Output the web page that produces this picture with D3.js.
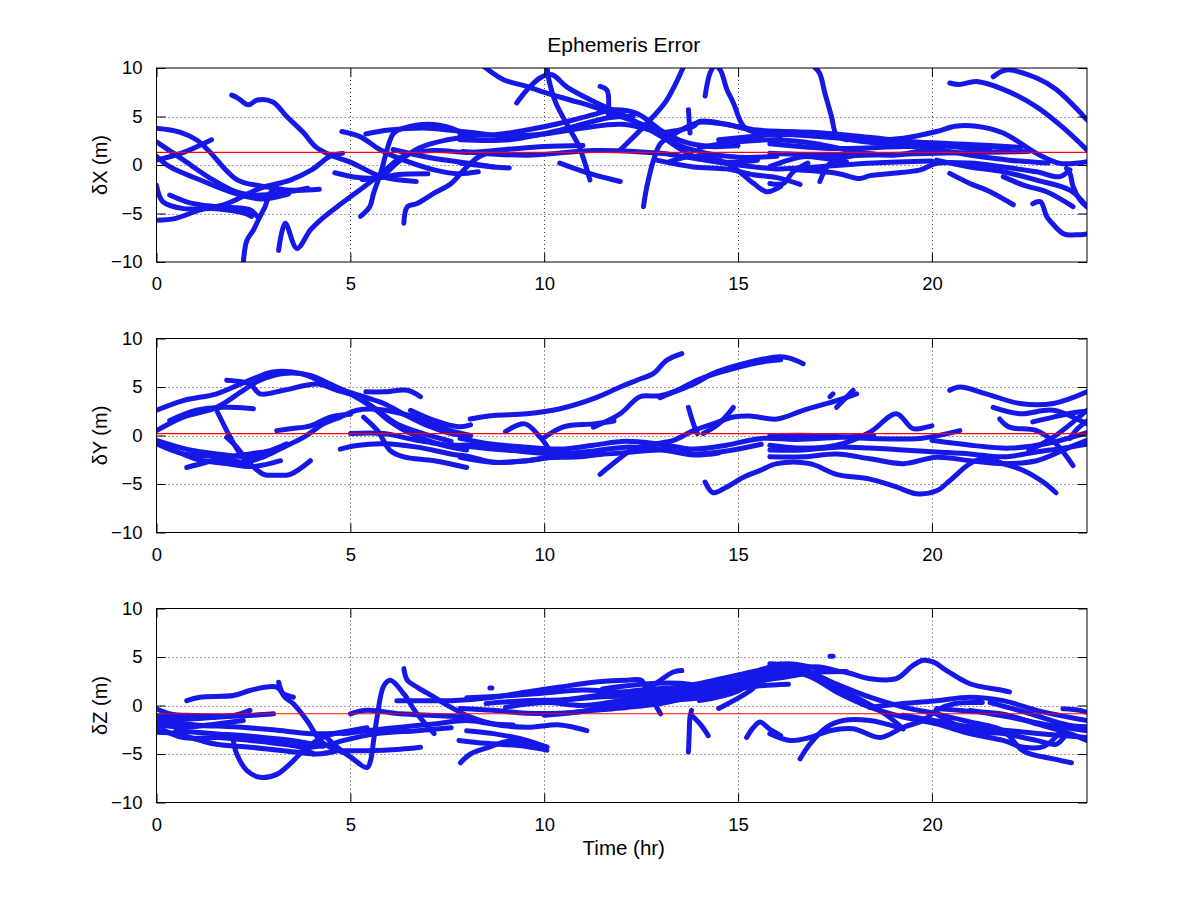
<!DOCTYPE html>
<html><head><meta charset="utf-8">
<script src="https://cdn.jsdelivr.net/npm/d3@7"></script>
<style>body{margin:0;background:#fff}svg{display:block}text{font-family:"Liberation Sans",Arial,sans-serif;fill:#000}</style>
</head><body><svg id="c" width="1201" height="901"></svg>
<script>
const titleText = "Ephemeris Error";
const xLabel = "Time (hr)";
const yLabels = ["\u03b4X (m)", "\u03b4Y (m)", "\u03b4Z (m)"];
const xTicks = [0, 5, 10, 15, 20];
const yTicks = [-10, -5, 0, 5, 10];
const xDomain = [0, 24];
const yDomain = [-10, 10];
const meanBias = [1.3, 0.2, -0.85];

const dXTracks = [
 [[1.94,7.2],[2.1,6.9],[2.37,6.2],[2.6,6.7],[3.0,6.5],[3.36,5.0],[3.8,3.3],[4.1,1.9],[4.5,1.0],[5.0,0.3],[5.8,-1.2],[6.7,-1.7]],
 [[0,3.8],[0.6,3.4],[1.03,2.6],[1.34,1.5],[2.07,-1.5],[2.76,-2.2],[3.5,-2.6],[4.2,-2.5]],
 [[0,2.4],[0.7,0.5],[1.4,-1.4],[2.07,-2.8],[2.5,-3.1],[3.2,-2.9],[3.9,-2.4]],
 [[0,0.5],[0.7,1.3],[1.42,2.6]],
 [[0,0.9],[0.35,-0.2],[1.1,-1.5],[2.0,-2.9],[2.7,-3.5],[3.4,-3.0]],
 [[0,-2.1],[0.17,-3.8],[0.7,-4.5],[1.55,-4.5],[2.3,-5.0],[2.45,-5.3]],
 [[0,-5.7],[0.5,-5.5],[1.1,-4.65],[1.8,-4.0],[2.67,-2.4],[3.45,-1.55],[4.0,-0.5],[4.48,0.9],[4.8,1.2]],
 [[0.34,-3.1],[0.86,-3.9],[1.55,-4.3],[2.4,-4.6],[2.6,-5.3]],
 [[2.24,-10],[2.33,-7.8],[2.5,-6.7],[2.67,-5.3],[2.8,-4.3],[2.93,-2.9],[3.1,-2.3]],
 [[3.15,-8.8],[3.32,-6.0],[3.62,-8.6],[3.97,-6.7],[4.22,-5.7],[4.66,-4.3],[5.1,-3.0],[5.7,-1.2],[6.0,-0.2]],
 [[5.26,-5.3],[5.5,-4.3],[5.6,-2.9],[5.78,-0.86],[6.12,3.3],[6.38,3.8],[7.0,4.2],[7.6,3.8],[8.1,2.8]],
 [[6.38,-6.0],[6.47,-4.3],[6.72,-3.97],[7.16,-2.9],[7.6,-1.9],[7.93,-0.5],[8.3,0.8],[8.8,1.5]],
 [[4.78,3.45],[5.26,2.9],[5.78,1.55],[6.38,0.5],[7.16,-0.5],[7.76,-0.9],[8.3,-0.7]],
 [[4.6,-0.8],[5.2,-1.3],[5.8,-1.3],[6.2,-1.0],[7.0,-0.9]],
 [[5.3,-1.5],[5.8,-1.2],[6.2,0.2],[6.8,1.8],[7.5,2.6],[8.2,3.0]],
 [[5.4,3.2],[6.0,3.6],[7.0,3.8],[8.0,3.4],[9.0,3.0],[10.0,3.2],[11.0,3.8],[12.0,4.2],[13.0,3.3]],
 [[5.8,-1.0],[6.4,1.0],[7.2,1.5],[8.0,1.3],[9.0,1.6],[10.0,1.9],[11.0,2.0]],
 [[6.1,1.6],[7.0,0.8],[8.0,0.2],[8.7,-0.2]],
 [[8.43,10.2],[8.95,8.8],[9.55,8.1],[10.07,7.4],[10.67,6.7],[11.27,6.0],[11.96,5.0],[12.65,4.0],[13.0,3.3],[13.5,2.0],[14.2,1.2],[15.0,0.8],[16.0,0.9]],
 [[9.29,6.4],[9.55,7.7],[9.9,9.0],[10.2,9.3],[10.6,8.0],[11.3,6.5],[11.96,5.3],[12.99,3.0],[13.85,0.9],[14.6,0.3],[15.5,0.5]],
 [[10.07,10.2],[10.12,8.8],[10.3,6.4],[10.67,3.6],[10.9,1.9],[11.18,-1.55]],
 [[11.96,1.55],[12.65,4.3],[13.16,6.7],[13.6,10.2]],
 [[14.15,7.1],[14.28,9.5],[14.4,10.2],[14.54,9.8],[14.71,7.8],[14.88,6.4],[15.14,4.0],[15.5,3.3],[16.5,3.1],[17.5,2.8],[18.5,2.3],[19.5,2.2],[20.5,1.9],[21.5,1.5]],
 [[12.56,-4.3],[12.65,-2.2],[12.82,0.5],[13.0,2.2],[13.4,3.3],[14.0,4.4],[14.5,4.3],[15.5,3.6],[16.5,3.4],[17.54,2.9],[18.4,2.6],[19.26,2.76],[20.12,3.45],[20.6,4.0],[21.15,4.0],[21.84,3.3],[22.7,1.2],[23.3,0.17],[24.0,0.34]],
 [[11.44,8.1],[11.62,7.7],[11.65,5.3]],
 [[7.83,3.1],[8.69,3.1],[9.55,3.6],[10.41,4.3],[11.27,5.2],[11.8,5.7],[12.4,5.3],[13.0,3.6],[13.6,2.4],[14.3,1.9],[15.0,2.0]],
 [[7.83,2.6],[9.1,2.6],[10.41,3.6],[11.7,4.9],[12.3,5.0]],
 [[7.9,1.4],[9.55,1.0],[11.27,1.5],[13.0,1.2],[14.0,0.6],[15.0,0.0],[16.0,-0.4],[17.0,-0.2],[18.5,0.2],[20.0,0.4]],
 [[7.83,0.2],[8.69,-0.2],[9.1,-0.3]],
 [[10.4,0.2],[11.27,-1.0],[11.96,-1.7]],
 [[13.0,3.3],[13.85,4.0],[14.0,4.5],[14.7,4.2],[15.4,3.5],[16.1,3.0]],
 [[13.2,0.3],[13.85,0.9],[14.7,0.2],[15.4,-1.9],[15.74,-2.76],[16.1,-2.2]],
 [[13.72,5.7],[13.76,3.3]],
 [[16.94,10.2],[17.1,9.5],[17.24,7.4],[17.41,5.0],[17.54,3.1],[17.8,2.6]],
 [[15.82,2.2],[17.54,1.7],[19.26,1.9],[20.98,2.0],[22.0,1.7]],
 [[15.82,1.2],[17.54,1.0],[20.1,1.2],[22.5,1.4]],
 [[15.82,-0.17],[16.3,0.5],[16.68,0.86],[17.2,0.7],[17.8,0.3]],
 [[15.82,-1.9],[16.17,-1.9],[16.42,-0.7],[16.8,0.2]],
 [[17.11,-1.7],[17.37,0.17],[17.9,0.9],[18.5,1.1]],
 [[16.5,-0.5],[17.54,-0.86],[18.14,-1.4],[18.4,-1.1],[19.7,-0.5],[20.12,0.17],[20.98,0.2],[21.84,-0.2],[22.7,-0.7],[23.3,-1.2],[23.56,-0.5]],
 [[20.12,0.5],[20.98,-0.2],[21.84,-0.7],[22.7,-1.55],[23.56,-2.6],[24.0,-4.3]],
 [[20.46,-0.86],[20.98,-1.9],[21.5,-2.76],[22.1,-4.1]],
 [[21.84,-1.2],[22.36,-2.07],[22.96,-2.76],[23.64,-4.3]],
 [[22.6,-4.0],[22.8,-3.8],[22.96,-5.3],[23.1,-6.0],[23.4,-7.1],[23.7,-7.2],[24.0,-7.1]],
 [[23.47,-0.34],[23.56,-0.86],[23.64,-2.2],[23.82,-3.6],[24.0,-4.3]],
 [[20.46,8.45],[20.7,8.3],[21.15,8.6],[21.84,7.8],[22.7,6.0],[23.4,3.8],[24.0,1.55]],
 [[21.58,9.1],[21.92,9.8],[22.7,8.97],[23.2,7.8],[24.0,4.66]],
 [[12.9,0.5],[13.85,-0.2],[14.7,-0.4],[15.4,-1.0],[16.0,-1.3],[16.6,-2.0]],
 [[14.5,2.6],[15.5,3.0],[16.5,3.4],[17.5,3.2],[18.5,2.8],[19.5,2.4],[20.5,2.2],[21.5,2.0],[22.3,1.8]],
 [[14.0,1.8],[15.0,2.4],[16.0,2.6],[17.0,2.2],[18.0,1.4],[19.0,1.0],[20.0,1.6],[21.0,1.0],[22.0,0.5],[23.0,0.2]]
];

const dYTracks = [
 [[0,2.6],[0.69,3.6],[1.55,4.3],[2.16,5.3],[2.59,6.0],[3.0,6.55],[3.7,6.4],[4.4,5.3],[4.83,4.66],[5.34,4.0],[5.86,3.3],[6.38,2.2],[7.0,1.0],[7.6,0.2],[8.1,0.0]],
 [[0,0.5],[0.69,1.9],[1.55,2.9],[2.24,4.66],[2.67,5.7],[3.28,6.4],[3.97,6.2],[4.48,5.3],[5.0,4.3],[5.6,2.8],[6.0,1.5],[6.5,0.3],[7.2,-0.8],[8.0,-1.5]],
 [[0.34,1.55],[1.03,2.6],[1.72,2.9],[2.5,2.76]],
 [[1.81,5.7],[2.41,5.3],[2.67,4.3],[3.28,4.66],[4.14,5.3],[4.66,4.66],[5.17,4.0],[5.7,2.6],[6.2,1.2],[6.8,0.3],[7.6,-0.6]],
 [[0,-0.86],[0.69,-1.9],[1.55,-2.2],[2.24,-2.76],[2.76,-2.2],[3.28,-1.2],[3.8,-0.17],[4.31,1.2],[4.74,1.9],[5.17,2.6],[5.7,2.7],[6.38,2.2],[6.72,1.9],[7.59,0.5],[8.1,0.0]],
 [[0,-0.5],[0.86,-1.5],[1.55,-1.9],[2.41,-2.2],[2.76,-1.9]],
 [[0.78,-3.3],[1.29,-2.76],[1.9,-2.2],[2.41,-1.9],[2.93,-1.55],[3.36,-0.86]],
 [[1.55,2.6],[1.9,-0.17],[2.16,-1.9],[2.41,-2.9]],
 [[1.81,-0.2],[2.07,-1.2],[2.41,-2.9],[2.76,-4.0],[3.1,-4.1],[3.45,-4.0],[3.97,-2.6]],
 [[3.1,0.5],[3.45,0.7],[3.97,1.0],[4.48,1.9],[5.0,2.2]],
 [[4.74,-1.4],[5.17,-1.03],[5.86,-0.86],[6.72,-1.2],[7.59,-1.9],[8.1,-2.2],[8.69,-2.76],[9.55,-2.6],[10.07,-2.3]],
 [[5.34,1.9],[5.7,0.5],[6.03,-1.55],[6.38,-2.2],[7.16,-2.6],[8.0,-3.3]],
 [[5.4,4.5],[5.86,4.5],[6.47,4.66],[6.81,4.0]],
 [[6.55,2.6],[7.2,1.5],[7.8,0.9],[8.1,1.1]],
 [[5.0,0.2],[5.86,0.2],[6.72,-0.5],[7.59,-1.0],[8.1,-1.0],[9.0,-1.4],[9.55,-1.7],[10.4,-1.9],[11.27,-1.6],[12.1,-1.2],[13.0,-1.4],[13.9,-1.9],[14.7,-1.6],[15.6,-0.9]],
 [[8.09,1.7],[8.69,2.07],[9.55,2.24],[10.41,2.76],[11.27,3.8],[11.96,5.0],[12.39,5.7],[12.82,6.4],[13.16,7.76],[13.55,8.45]],
 [[11.27,0.86],[11.96,2.24],[12.47,4.0],[12.99,4.1],[13.85,5.3],[14.36,6.4],[15.14,7.4],[16.0,8.1],[16.3,8.0],[16.68,7.4]],
 [[12.99,3.9],[13.5,4.8],[14.0,5.8],[14.7,6.7],[15.5,7.5],[16.1,7.8]],
 [[7.83,-0.3],[8.69,-0.9],[9.55,-1.2],[10.41,-1.4],[11.27,-1.0],[12.1,-0.6],[13.0,-0.9],[13.85,-1.4],[14.7,-1.0],[15.6,-0.3],[16.5,-0.4],[17.5,-0.2],[18.5,0.0]],
 [[7.83,-2.24],[8.69,-2.76],[9.55,-2.6],[10.07,-2.3],[10.9,-2.2],[11.5,-1.9]],
 [[11.44,-4.0],[11.87,-2.6],[12.3,-1.4],[12.8,-0.9],[13.33,-0.5],[13.85,0.5],[14.36,1.2],[14.88,1.9],[15.3,2.0],[16.0,1.7],[16.68,2.6],[17.54,3.6],[18.06,4.3]],
 [[13.72,2.9],[13.85,1.2],[13.95,0.2]],
 [[14.1,0.2],[14.5,1.2],[14.88,2.9]],
 [[14.15,-4.8],[14.36,-5.9],[14.71,-5.3],[15.14,-4.3],[15.57,-3.6],[16.0,-2.9],[16.85,-2.9],[17.54,-4.0],[18.4,-4.5],[19.08,-5.3],[19.6,-6.0],[20.12,-5.7],[20.46,-4.66],[20.98,-2.9],[21.4,-2.3],[21.84,-2.9],[22.36,-3.6],[22.87,-4.8],[23.2,-5.9]],
 [[9.0,0.4],[9.5,1.2],[9.9,-0.2],[10.2,-1.9]],
 [[10.0,-0.2],[10.5,0.9],[11.27,1.2],[11.8,1.5]],
 [[8.0,-1.1],[9.0,-1.5],[10.0,-1.7],[11.0,-2.0],[12.0,-1.8],[13.0,-1.5],[13.85,-2.0],[14.5,-1.8]],
 [[15.82,-1.0],[16.68,-1.3],[17.54,-1.0],[18.4,0.34],[19.08,2.24],[19.51,0.7],[19.86,0.86],[20.0,1.0]],
 [[17.37,4.0],[17.45,4.3]],
 [[17.54,2.9],[17.97,4.66]],
 [[15.82,0.0],[17.1,0.0],[18.4,-0.3],[19.7,-0.3],[20.72,0.5]],
 [[15.82,-1.5],[16.68,-1.5],[17.54,-1.2],[18.4,-1.3],[19.26,-1.5],[20.12,-1.7],[20.98,-1.9],[21.84,-2.2],[22.7,-1.7],[23.56,-1.2],[24.0,-0.9]],
 [[15.82,-2.2],[16.68,-2.2],[17.54,-1.9],[18.4,-2.4],[19.26,-2.9],[20.12,-2.24],[20.98,-2.6],[21.84,-2.9],[22.7,-2.6],[23.56,-1.2],[24.0,-0.5]],
 [[20.46,4.66],[20.72,5.0],[21.4,4.3],[22.27,3.3],[23.13,3.3],[24.0,4.5]],
 [[21.58,2.9],[22.27,2.24],[23.13,2.6],[24.0,1.2]],
 [[21.75,1.7],[22.0,0.86],[22.7,0.5],[23.2,-0.86],[23.64,-3.1]],
 [[22.6,1.4],[23.13,1.9],[23.73,2.4],[24.0,2.5]],
 [[22.5,-1.55],[23.13,-0.17],[24.0,2.6]],
 [[23.56,-0.3],[23.73,0.6],[24.0,1.5]],
 [[20.0,-0.5],[21.0,-1.0],[22.0,-1.3],[23.0,-0.8],[24.0,0.3]],
 [[0.3,-1.2],[1.0,-2.4],[1.8,-2.9],[2.5,-3.2],[3.2,-2.6]]
];

const dZTracks = [
 [[0.78,0.5],[1.12,0.86],[1.98,1.03],[2.41,1.55],[2.84,1.9],[3.1,1.9],[3.28,1.2],[3.53,0.86]],
 [[3.15,2.4],[3.28,1.0],[3.53,0.17],[3.88,-1.55],[4.22,-3.6],[4.48,-4.3],[4.8,-4.8]],
 [[0,-0.34],[0.35,-0.86],[0.95,-1.03],[1.98,-1.03],[2.41,-0.5]],
 [[0,-1.03],[0.69,-1.4],[1.55,-1.2],[2.41,-1.03],[3.02,-0.86]],
 [[0,-1.9],[0.69,-2.24],[1.55,-1.9],[2.24,-1.55]],
 [[0,-2.76],[0.52,-2.9],[1.12,-3.6],[1.55,-4.0],[2.41,-4.3],[3.28,-4.66],[4.14,-5.0],[4.66,-4.66]],
 [[0,-2.2],[0.69,-3.3],[1.55,-3.3],[2.41,-3.6],[3.28,-4.0],[3.97,-4.3],[4.48,-4.0],[4.83,-3.6],[5.69,-2.9],[6.72,-2.6],[7.6,-2.3]],
 [[1.98,-3.6],[2.07,-5.0],[2.33,-6.7],[2.67,-7.4],[3.1,-7.1],[3.45,-6.0],[3.7,-5.0],[4.14,-3.6],[4.48,-3.0],[5.0,-2.6],[5.43,-2.3]],
 [[2.16,-3.3],[2.84,-3.6],[3.7,-4.3],[4.05,-5.0]],
 [[4.31,-3.0],[4.66,-4.3],[5.0,-5.3],[5.43,-6.4],[5.52,-5.7],[5.6,-3.6],[5.69,-1.2],[5.86,2.0],[6.03,2.6],[6.38,1.2],[6.72,-0.86],[7.16,-2.9]],
 [[5.0,-0.86],[5.43,-0.5],[6.29,-0.86],[7.16,-1.03],[8.1,-1.2]],
 [[6.38,3.8],[6.47,2.6],[6.72,1.9],[7.16,0.86],[7.59,-0.17],[8.1,-1.2],[8.69,-1.9],[9.55,-2.24],[10.41,-2.0],[11.1,-2.6]],
 [[4.83,-2.9],[5.43,-2.6],[6.29,-2.24],[7.16,-1.9],[8.0,-1.55],[8.69,-1.9],[9.2,-2.0]],
 [[4.83,-4.66],[5.43,-4.66],[6.29,-4.5],[6.81,-4.3]],
 [[6.2,0.5],[6.72,0.5],[7.59,0.5],[8.69,0.86],[9.55,1.4],[10.41,1.9],[11.27,2.4],[12.13,2.6],[12.5,2.6],[12.65,1.55],[13.0,-0.86]],
 [[7.84,-5.9],[8.1,-5.0],[8.5,-4.4],[9.2,-3.6],[10.07,-4.3]],
 [[7.8,-3.6],[8.5,-3.9],[9.5,-4.2],[10.07,-4.6]],
 [[7.83,-0.3],[8.69,-0.5],[9.55,-0.8],[10.41,-0.8],[11.27,-0.5],[12.13,-0.2],[13.0,0.2],[13.85,0.9],[14.7,1.5],[15.5,2.0],[16.3,2.2]],
 [[8.0,-2.6],[8.69,-2.9],[9.55,-3.6],[10.07,-4.3]],
 [[8.5,0.2],[9.5,0.5],[10.5,0.6],[11.5,0.9],[12.5,1.0],[13.5,1.3],[14.5,2.0],[15.5,3.3],[16.1,4.3]],
 [[12.65,1.55],[13.0,2.6],[13.33,3.45],[13.55,3.6]],
 [[13.72,-4.8],[13.74,-2.9],[13.76,-1.2],[13.8,-0.5]],
 [[13.8,-1.0],[14.02,-1.9],[14.23,-3.1]],
 [[15.22,-3.3],[15.4,-2.24],[15.57,-1.7],[15.8,-2.4],[16.1,-3.1]],
 [[10.4,0.5],[11.5,1.1],[12.5,1.6],[13.5,1.9],[14.5,2.7],[15.5,3.6],[16.25,4.3],[17.11,3.8],[17.8,3.4],[18.4,2.76],[19.08,2.76],[19.5,4.1],[19.77,4.66],[20.03,4.5],[20.38,3.6],[20.98,2.24],[21.84,1.55],[22.0,1.4]],
 [[14.0,0.5],[15.0,1.5],[15.82,3.8],[16.68,3.6],[17.54,2.2],[18.4,0.86],[19.26,-0.17],[20.12,-0.86],[20.98,-1.7],[21.84,-2.6],[22.36,-4.7],[23.13,-5.5],[23.6,-5.9]],
 [[14.5,-0.3],[15.3,1.5],[15.82,3.3],[16.68,3.3],[17.54,1.4],[18.4,-0.17],[19.26,-1.2],[20.12,-1.9],[20.98,-2.9],[21.84,-3.6],[22.36,-4.3],[22.9,-4.2],[23.3,-2.76]],
 [[15.82,-2.9],[16.34,-3.6],[16.85,-3.3],[17.37,-2.6],[17.97,-2.4],[18.66,-3.3],[19.26,-2.24],[19.77,-1.55],[20.12,-0.5],[20.6,0.2],[21.3,0.3]],
 [[16.6,-5.5],[16.85,-4.0],[17.28,-2.24],[17.71,-1.55],[18.4,-1.55],[18.8,-1.9],[19.26,-2.4]],
 [[18.4,-0.2],[19.26,0.2],[20.12,0.5],[20.98,0.86],[21.84,0.5],[22.7,-0.5],[24.0,-1.55]],
 [[20.12,-0.3],[20.98,-0.6],[21.84,-0.9],[22.7,-1.9],[23.56,-2.9],[24.0,-3.6]],
 [[23.38,-0.34],[23.82,-0.5],[24.0,-0.7]],
 [[20.12,-0.9],[20.98,-2.6],[21.84,-2.9],[22.7,-3.6],[23.2,-4.0],[23.4,-3.3]],
 [[16.25,3.8],[17.11,2.6],[17.97,1.0],[18.8,-0.9],[19.26,-2.4]],
 [[17.37,5.07],[17.45,5.07]],
 [[8.6,1.8],[8.65,1.8]],
 [[15.82,4.3],[16.5,4.0],[17.2,2.8],[17.5,2.1]],
 [[21.0,-0.5],[22.0,-1.2],[23.0,-2.0],[24.0,-2.6]],
 [[21.5,0.3],[22.5,-0.8],[23.5,-2.0],[24.0,-2.2]],
 [[19.26,-1.0],[20.12,-1.6],[21.0,-2.2],[22.0,-2.6],[23.0,-3.0],[24.0,-3.3]],
 [[8.0,0.8],[9.0,1.0],[10.0,1.3],[11.0,1.6],[12.0,1.4],[13.0,1.5],[14.0,2.0],[15.0,2.6],[16.0,3.6],[16.5,4.0]],
 [[9.0,-0.2],[10.0,0.3],[11.0,0.0],[12.0,0.5],[13.0,0.9],[14.0,1.2],[15.0,2.2],[16.0,2.8],[17.0,3.4],[17.8,3.5]],
 [[10.0,-1.0],[11.0,-0.6],[12.0,0.2],[13.0,0.5],[14.0,0.8],[15.0,1.8],[15.8,3.0]],
 [[11.5,1.7],[12.5,2.2],[13.5,2.3],[14.5,1.8],[15.5,2.4],[16.3,3.5],[17.0,4.0],[17.6,3.5]],
 [[0,-1.5],[1.0,-2.0],[2.0,-2.2],[3.0,-2.5],[4.0,-2.9],[5.0,-2.8]],
 [[0.5,-2.6],[1.5,-2.9],[2.5,-3.2],[3.5,-3.6],[4.3,-4.2]]
];

const panels = [dXTracks, dYTracks, dZTracks];

const svg = d3.select("#c");
const L = 156.5, R = 1087, H = 194;
const tops = [68, 338.5, 608.5];
const x = d3.scaleLinear().domain(xDomain).range([L, R]);
const blue = "rgb(22,24,232)";
const fontFam = '"Liberation Sans",Arial,sans-serif';

svg.append("text").attr("x", (L + R) / 2 + 2).attr("y", 52).attr("text-anchor", "middle")
  .style("font-size", "21px").text(titleText);

panels.forEach((tracks, i) => {
  const top = tops[i];
  const y = d3.scaleLinear().domain(yDomain).range([top + H, top]);
  const g = svg.append("g");
  const cid = "clip" + i;
  svg.append("clipPath").attr("id", cid).append("rect")
    .attr("x", L).attr("y", top).attr("width", R - L).attr("height", H);

  const grid = g.append("g").attr("stroke", "#000").attr("stroke-width", 1)
    .attr("stroke-dasharray", "1,3").attr("opacity", 0.75);
  xTicks.filter(t => t > xDomain[0]).forEach(t => {
    grid.append("line").attr("x1", Math.round(x(t)) + 0.5).attr("x2", Math.round(x(t)) + 0.5)
      .attr("y1", top).attr("y2", top + H);
  });
  yTicks.filter(v => v > yDomain[0] && v < yDomain[1]).forEach(v => {
    grid.append("line").attr("y1", Math.round(y(v)) + 0.5).attr("y2", Math.round(y(v)) + 0.5)
      .attr("x1", L).attr("x2", R);
  });

  const line = d3.line().x(d => x(d[0])).y(d => y(d[1])).curve(d3.curveCatmullRom.alpha(0.5));
  const tg = g.append("g").attr("clip-path", `url(#${cid})`);
  tg.selectAll("path").data(tracks).join("path")
    .attr("d", line).attr("fill", "none").attr("stroke", blue)
    .attr("stroke-width", 5).attr("stroke-linecap", "round").attr("stroke-linejoin", "round");

  tg.append("line").attr("x1", L).attr("x2", R)
    .attr("y1", y(meanBias[i])).attr("y2", y(meanBias[i]))
    .attr("stroke", "#ff0000").attr("stroke-width", 1.2);

  const tl = 9;
  const axG = g.append("g").attr("transform", `translate(0,${top + H})`)
    .call(d3.axisBottom(x).tickValues(xTicks).tickSize(-tl).tickPadding(tl + 6));
  const axT = g.append("g").attr("transform", `translate(0,${top})`)
    .call(d3.axisTop(x).tickValues(xTicks).tickSize(-tl).tickFormat(""));
  const ayG = g.append("g").attr("transform", `translate(${L},0)`)
    .call(d3.axisLeft(y).tickValues(yTicks).tickSize(-tl).tickPadding(tl + 5));
  const ayR = g.append("g").attr("transform", `translate(${R},0)`)
    .call(d3.axisRight(y).tickValues(yTicks).tickSize(-tl).tickFormat(""));
  [axG, axT, ayG, ayR].forEach(a => {
    a.select(".domain").remove();
    a.selectAll("line").attr("stroke", "#000");
    a.selectAll("text").style("font-size", "18.5px").style("font-family", fontFam).attr("fill", "#000");
  });
  g.append("rect").attr("x", L).attr("y", top).attr("width", R - L).attr("height", H)
    .attr("fill", "none").attr("stroke", "#000").attr("stroke-width", 1);

  svg.append("text").attr("transform", `translate(107,${top + H / 2}) rotate(-90)`)
    .attr("text-anchor", "middle").style("font-size", "20px").text(yLabels[i]);
});

svg.append("text").attr("x", (L + R) / 2 + 2).attr("y", 855).attr("text-anchor", "middle")
  .style("font-size", "20.5px").text(xLabel);
</script></body></html>
